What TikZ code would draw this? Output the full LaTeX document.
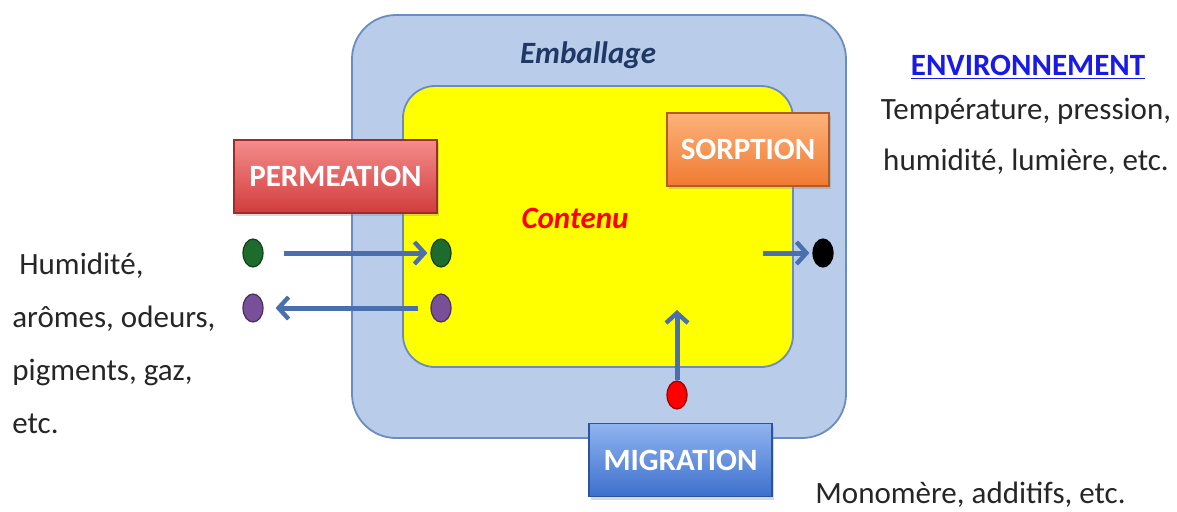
\documentclass[tikz,border=0pt]{standalone}
\usepackage{fontspec}
\setmainfont{Carlito}
\usepackage{tikz}
\usetikzlibrary{positioning, arrows.meta, shapes.geometric, shadows}

\definecolor{pack}{HTML}{B9CDEA}
\definecolor{packline}{HTML}{6A8CC0}
\definecolor{content}{RGB}{255,255,0}
\definecolor{navy}{HTML}{1F3864}
\definecolor{flow}{HTML}{4A6FAF}
\definecolor{ink}{HTML}{262626}
\definecolor{envblue}{HTML}{1A1AE6}
\definecolor{dotgreen}{HTML}{1E6B2E}
\definecolor{dotpurple}{HTML}{7A4F9A}
\definecolor{permtop}{HTML}{F58C8C}
\definecolor{permbot}{HTML}{D23C3C}
\definecolor{sorptop}{HTML}{FCB27A}
\definecolor{sorpbot}{HTML}{F07A32}
\definecolor{migrtop}{HTML}{91B4F0}
\definecolor{migrbot}{HTML}{3C70CD}

\begin{document}
\begin{tikzpicture}[x=0.5pt, y=-0.5pt,
    every node/.style={font=\fontsize{15.5}{26.5}\selectfont, text=ink},
    proc/.style={draw=#1!75!black, line width=0.6pt, minimum height=36.5pt,
        font=\fontsize{15.5}{18}\selectfont\bfseries, text=white,
        drop shadow={shadow xshift=1.2pt, shadow yshift=-1.5pt, opacity=0.3}},
    dot/.style={ellipse, fill=#1, draw=#1!60!black, line width=0.6pt,
        minimum width=10pt, minimum height=14pt, inner sep=0pt},
    flowline/.style={draw=flow, line width=2.5pt,
        -{Straight Barb[length=5pt, width=11pt, line width=2.2pt]}}
]
\useasboundingbox (0,0) rectangle (1177,511);

% boxes
\draw[fill=pack, draw=packline, line width=0.9pt, rounded corners=22pt]
    (352,15) rectangle (846,438);
\draw[fill=content, draw=packline, line width=0.9pt, rounded corners=16pt]
    (403,86) rectangle (793,367);

\node[anchor=base, text=navy, font=\fontsize{15.5}{18}\selectfont\bfseries\itshape]
    (emb) at (588,63) {Emballage};
\node[anchor=base, text=red, font=\fontsize{15.5}{18}\selectfont\bfseries\itshape]
    (cont) at (575,228) {Contenu};

% processes
\node[proc=permbot, top color=permtop, bottom color=permbot, minimum width=101.5pt]
    (perm) at (335.5,176.5) {PERMEATION};
\node[proc=sorpbot, top color=sorptop, bottom color=sorpbot, minimum width=81pt]
    (sorp) at (748,149.5) {SORPTION};
\node[proc=migrbot, top color=migrtop, bottom color=migrbot, minimum width=91.5pt]
    (migr) at (680.5,460) {MIGRATION};

% species
\node[dot=dotgreen] (gl) at (253,253) {};
\node[dot=dotgreen] (gr) at (441,253) {};
\node[dot=dotpurple] (pl) at (253,308) {};
\node[dot=dotpurple] (pr) at (441,308) {};
\node[dot=black] (bk) at (823,253) {};
\node[dot=red] (rd) at (677,395) {};
\coordinate (sorpA) at (763,253);
\coordinate (migA) at (677,310);

\draw[flowline, shorten <=10pt, shorten >=1.5pt] (gl) -- (gr);
\draw[flowline, shorten <=6pt, shorten >=6pt] (pr) -- (pl);
\draw[flowline, shorten >=1.5pt] (sorpA) -- (bk);
\draw[flowline] (rd) -- (migA);

% texts
\node[anchor=base west, align=left, inner sep=0pt] (subst) at (12,433)
    {~Humidité,\\arômes, odeurs,\\pigments, gaz,\\etc.};
\node[anchor=base, inner sep=0pt, text=envblue,
    font=\fontsize{15.5}{18}\selectfont\bfseries] (env) at (1028,75)
    {\underline{ENVIRONNEMENT}};
\node[anchor=base, align=center, inner sep=0pt,
    font=\fontsize{15.5}{25.5}\selectfont] (envtxt) at (1026,170)
    {Température, pression,\\humidité, lumière, etc.};
\node[anchor=base west, inner sep=0pt] (mono) at (815,503)
    {Monomère, additifs, etc.};
\end{tikzpicture}
\end{document}
